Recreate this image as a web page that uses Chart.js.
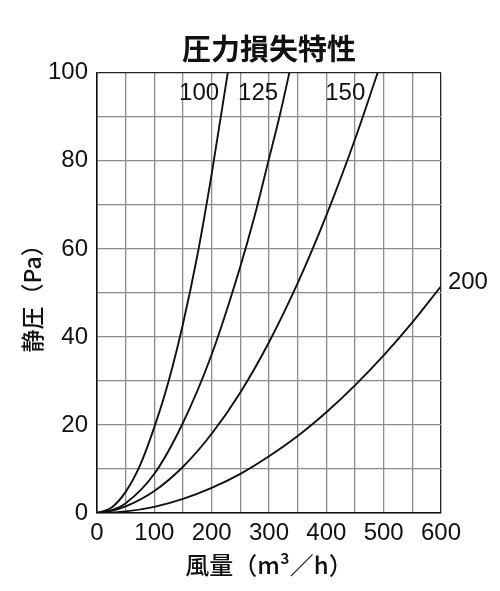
<!DOCTYPE html>
<html>
<head>
<meta charset="utf-8">
<script src="https://cdn.jsdelivr.net/npm/chart.js@4/dist/chart.umd.min.js"></script>
<style>
html,body{margin:0;padding:0;background:#fff;}
#wrap{width:500px;height:591px;position:relative;}
</style>
</head>
<body>
<div id="wrap"><canvas id="c" width="500" height="591"></canvas></div>
<script>
// Curve data (風量 m³/h, 静圧 Pa)
const seriesNames = ['100', '125', '150', '200'];
const q100 = [0, 25, 50, 75, 100, 125, 150, 175, 200, 228];
const p100 = [0, 1.2, 4.8, 10.8, 19.5, 30, 43, 58.5, 77, 100];
const q125 = [0, 25, 50, 100, 150, 200, 250, 275, 300, 320, 335.5];
const p125 = [0, 0.6, 2.2, 8.9, 20.5, 36, 56, 67.5, 80.5, 91, 100];
const q150 = [0, 25, 50, 100, 150, 200, 250, 300, 350, 400, 450, 489.5];
const p150 = [0, 0.5, 1.5, 5.0, 10.5, 18.0, 27.4, 38.8, 52.2, 67.6, 84.9, 100];
const q200 = [0, 50, 100, 150, 200, 250, 300, 350, 400, 450, 500, 550, 600];
const p200 = [0, 0.36, 1.4, 3.2, 5.7, 8.9, 12.9, 17.5, 22.9, 29, 35.8, 43.3, 51.5];
const xTicks = [0, 100, 200, 300, 400, 500, 600];
const yTicks = [0, 20, 40, 60, 80, 100];

const toPts = (qs, ps) => qs.map((q, i) => ({x: q, y: ps[i]}));
const allQ = [q100, q125, q150, q200];
const allP = [p100, p125, p150, p200];

const FONT = '"Liberation Sans", "Noto Sans CJK JP", Arial, sans-serif';
const JFONT = '"Noto Sans CJK JP", "Liberation Sans", sans-serif';

const curveLabels = {
  id: 'curveLabels',
  afterDatasetsDraw(chart) {
    const {ctx, scales: {x, y}} = chart;
    const spots = [
      {q: 178, p: 95.3, align: 'center'},
      {q: 281, p: 95.3, align: 'center'},
      {q: 433, p: 95.3, align: 'center'},
      {q: 612, p: 52.3, align: 'left'}
    ];
    ctx.save();
    ctx.fillStyle = '#111';
    ctx.font = '24px ' + FONT;
    ctx.textBaseline = 'middle';
    seriesNames.forEach((n, i) => {
      ctx.textAlign = spots[i].align;
      ctx.fillText(n, x.getPixelForValue(spots[i].q), y.getPixelForValue(spots[i].p));
    });
    ctx.restore();
  }
};

const gridColor = (edgeVal) => (c) => (c.tick && c.tick.value === edgeVal) ? '#222' : '#8c8c8c';

new Chart(document.getElementById('c'), {
  type: 'scatter',
  data: {
    datasets: seriesNames.map((n, i) => ({
      label: n,
      data: toPts(allQ[i], allP[i]),
      showLine: true,
      borderColor: '#111',
      borderWidth: 1.9,
      pointRadius: 0,
      cubicInterpolationMode: 'monotone',
      fill: false
    }))
  },
  options: {
    responsive: false,
    animation: false,
    devicePixelRatio: 1,
    layout: {padding: {left: 0, right: 59, top: 0, bottom: 0}},
    plugins: {
      legend: {display: false},
      tooltip: {enabled: false},
      title: {
        display: true,
        text: '圧力損失特性',
        fullSize: false,
        color: '#111',
        font: {family: JFONT, size: 29, weight: 'bold', lineHeight: 1.2},
        padding: {top: 32, bottom: 6}
      }
    },
    scales: {
      x: {
        type: 'linear', min: 0, max: 600,
        afterFit(s) { s.height = 78; },
        afterBuildTicks(s) { s.ticks = [0,50,100,150,200,250,300,350,400,450,500,550,600].map(v => ({value: v})); },
        ticks: {
          color: '#111', padding: 6, maxRotation: 0, autoSkip: false,
          font: {family: FONT, size: 24},
          callback: (v) => xTicks.includes(v) ? String(v) : ''
        },
        grid: {color: gridColor(600), lineWidth: 1.3, drawTicks: false},
        border: {display: true, color: '#111', width: 1.6},
        title: {
          display: true, text: '風量（m³／h）', color: '#111',
          font: {family: JFONT, size: 24, weight: '500', lineHeight: 1.2},
          padding: {top: 0, bottom: 12}
        }
      },
      y: {
        type: 'linear', min: 0, max: 100,
        afterFit(s) { s.width = 97; },
        afterBuildTicks(s) { s.ticks = [0,10,20,30,40,50,60,70,80,90,100].map(v => ({value: v})); },
        ticks: {
          color: '#111', padding: 9, autoSkip: false,
          font: {family: FONT, size: 24},
          callback: (v) => yTicks.includes(v) ? String(v) : ''
        },
        grid: {color: gridColor(100), lineWidth: 1.3, drawTicks: false},
        border: {display: true, color: '#111', width: 1.6},
        title: {
          display: true, text: '静圧（Pa）', color: '#111',
          font: {family: JFONT, size: 23, weight: '500', lineHeight: 1.2},
          padding: {top: 18, bottom: 0}
        }
      }
    }
  },
  plugins: [curveLabels]
});
</script>
</body>
</html>
